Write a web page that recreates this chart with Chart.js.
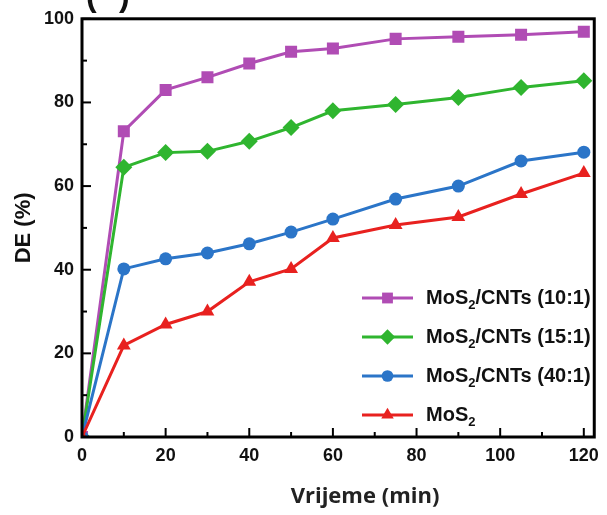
<!DOCTYPE html>
<html>
<head>
<meta charset="utf-8">
<script src="https://cdn.jsdelivr.net/npm/chart.js@4/dist/chart.umd.min.js"></script>
<style>
  html, body { margin: 0; padding: 0; background: #fff; }
  #wrap { width: 607px; height: 515px; }
</style>
</head>
<body>
<div id="wrap"><canvas id="myChart" width="607" height="515"></canvas></div>
<script>
// time points (min)
const times = [0, 10, 20, 30, 40, 50, 60, 75, 90, 105, 120];

// DE (%) per sample
const de10 = [0, 73.1, 83.0, 86.0, 89.3, 92.1, 92.9, 95.2, 95.7, 96.2, 96.9];
const de15 = [0, 64.5, 68.0, 68.3, 70.7, 74.0, 78.0, 79.5, 81.2, 83.6, 85.2];
const de40 = [0, 40.2, 42.6, 44.0, 46.2, 49.0, 52.1, 56.9, 60.0, 66.0, 68.1];
const deMoS2 = [0, 21.9, 26.9, 30.0, 37.1, 40.2, 47.6, 50.7, 52.6, 58.1, 63.1];

const seriesNames = ["MoS2/CNTs (10:1)", "MoS2/CNTs (15:1)", "MoS2/CNTs (40:1)", "MoS2"];
const xTickLabels = [0, 20, 40, 60, 80, 100, 120];
const yTickLabels = [0, 20, 40, 60, 80, 100];

const colors = ["#b04cb4", "#2fb52f", "#2b75c8", "#e8211f"];
const shapes = ["rect", "rectRot", "circle", "triangle"];
const sizes = [8.5, 8.5, 6.5, 8];

const FONT = "'Liberation Sans', Arial, sans-serif";

function pts(vals) {
    return times.map((t, i) => ({x: t, y: vals[i]}));
}

const allSeries = [de10, de15, de40, deMoS2];

let datasets = allSeries.map((vals, i) => ({
    label: seriesNames[i],
    data: pts(vals),
    borderColor: colors[i],
    backgroundColor: colors[i],
    borderWidth: 3,
    pointStyle: shapes[i],
    pointRadius: sizes[i],
    pointBorderWidth: 0,
    order: 3 - i
}));

// ticks pointing inward, frame, titles
const frameTicks = {
    id: "frameTicks",
    afterDraw(chart) {
        const ctx = chart.ctx;
        const a = chart.chartArea;
        const xs = chart.scales.x, ys = chart.scales.y;
        ctx.save();
        ctx.strokeStyle = "#000";
        ctx.lineWidth = 2;
        for (let v = 0; v <= 120; v += 10) {
            let px = xs.getPixelForValue(v);
            let len = (v % 20 == 0) ? 9 : 5;
            ctx.beginPath();
            ctx.moveTo(px, a.bottom);
            ctx.lineTo(px, a.bottom - len);
            ctx.stroke();
        }
        for (let v = 0; v <= 100; v += 10) {
            let py = ys.getPixelForValue(v);
            let len = (v % 20 == 0) ? 9 : 5;
            ctx.beginPath();
            ctx.moveTo(a.left, py);
            ctx.lineTo(a.left + len, py);
            ctx.stroke();
        }
        ctx.lineWidth = 3;
        ctx.strokeRect(a.left, a.top, a.right - a.left, a.bottom - a.top);

        // x title
        ctx.fillStyle = "#222";
        ctx.textAlign = "center";
        ctx.textBaseline = "middle";
        ctx.font = "bold 22px 'Open Sans', sans-serif";
        ctx.fillText("Vrijeme (min)", 365, 497);

        // panel label, cut off at the top edge
        ctx.fillStyle = "#111";
        ctx.textAlign = "left";
        ctx.textBaseline = "alphabetic";
        ctx.font = "bold 32px " + FONT;
        ctx.fillText("(", 86, 6);
        ctx.fillText(")", 119, 6);
        ctx.restore();
    }
};

// legend: line + marker, with subscript 2
const lineLegend = {
    id: "lineLegend",
    afterDraw(chart) {
        const ctx = chart.ctx;
        const x0 = 362, x1 = 413, tx = 426;
        const rowY = [298, 337, 376, 415];
        ctx.save();
        for (let i = 0; i < 4; i++) {
            let y = rowY[i];
            ctx.strokeStyle = colors[i];
            ctx.fillStyle = colors[i];
            ctx.lineWidth = 3;
            ctx.beginPath();
            ctx.moveTo(x0, y);
            ctx.lineTo(x1, y);
            ctx.stroke();
            Chart.helpers.drawPoint(ctx, {pointStyle: shapes[i], radius: sizes[i] * 0.9, borderWidth: 0}, (x0 + x1) / 2, y);

            ctx.fillStyle = "#111";
            ctx.textBaseline = "middle";
            ctx.textAlign = "left";
            ctx.font = "bold 20px " + FONT;
            let name = seriesNames[i];
            let head = "MoS";
            let tail = name.slice(4);
            ctx.fillText(head, tx, y);
            let w = ctx.measureText(head).width;
            ctx.font = "bold 13px " + FONT;
            ctx.fillText("2", tx + w, y + 7);
            let w2 = ctx.measureText("2").width;
            ctx.font = "bold 20px " + FONT;
            ctx.fillText(tail, tx + w + w2, y);
        }
        ctx.restore();
    }
};

new Chart("myChart", {
    type: "line",
    data: { datasets: datasets },
    options: {
        responsive: false,
        animation: false,
        layout: { padding: { top: 17, right: 7, left: 0, bottom: 0 } },
        plugins: {
            legend: { display: false },
            tooltip: { enabled: false }
        },
        scales: {
            x: {
                type: "linear",
                min: 0,
                max: 122.5,
                grid: { display: false, drawTicks: false },
                border: { display: false },
                afterBuildTicks: s => { s.ticks = xTickLabels.map(v => ({value: v})); },
                afterFit: s => { s.height = 78; },
                ticks: {
                    padding: 8,
                    color: "#111",
                    font: { family: FONT, size: 18, weight: "bold" }
                }
            },
            y: {
                min: 0,
                max: 100,
                grid: { display: false, drawTicks: false },
                border: { display: false },
                afterBuildTicks: s => { s.ticks = yTickLabels.map(v => ({value: v})); },
                afterFit: s => { s.width = 82; },
                ticks: {
                    padding: 8,
                    color: "#111",
                    font: { family: FONT, size: 18, weight: "bold" }
                },
                title: {
                    display: true,
                    text: "DE (%)",
                    color: "#111",
                    padding: { top: 11, bottom: 0 },
                    font: { family: FONT, size: 22, weight: "bold" }
                }
            }
        }
    },
    plugins: [frameTicks, lineLegend]
});
</script>
</body>
</html>
